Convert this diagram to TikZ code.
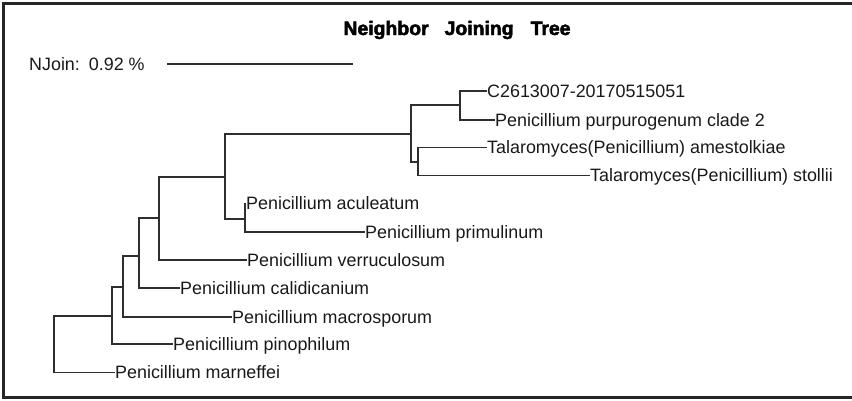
\documentclass[tikz,border=0pt]{standalone}
\usepackage{fontspec}
\setmainfont{Liberation Sans}
\newfontfamily\titlefont[FakeBold=2.5]{Liberation Sans}
\begin{document}
\begin{tikzpicture}[x=1pt,y=-1pt,
  branch/.style={draw=black!82, line width=1.6pt},
  leaf/.style={anchor=west, inner sep=0pt, text height=12pt, text depth=0pt,
    font=\fontsize{17.9}{20}\selectfont, text=black!90},
]
\useasboundingbox (0,0) rectangle (852,400);
\clip (0,0) rectangle (852,400);
% frame
\draw[line width=3pt, black!85] (3,3) rectangle (880,397);

% title
\node[font=\titlefont\fontsize{19.4}{22}\selectfont\bfseries, anchor=base] (title) at (457,35)
  {Neighbor\hspace{16pt}Joining\hspace{17pt}Tree};

% scale bar
\node[leaf] (scalelbl) at (29,64) {NJoin:\hspace{9pt}0.92 \%};
\coordinate (s0) at (167,64);
\coordinate (s1) at (353,64);
\draw[branch] (s0) -- (s1);

% internal nodes
\coordinate (R) at (54,344);
\coordinate (A) at (112,316);
\coordinate (B) at (123,287);
\coordinate (C) at (139,256);
\coordinate (D) at (159,218);
\coordinate (E) at (225,177);
\coordinate (F) at (245,219);
\coordinate (G) at (411,134);
\coordinate (H) at (460,105);
\coordinate (I) at (418,162);

% leaves
\node[leaf] (l1) at (487,91) {C2613007-20170515051};
\node[leaf] (l2) at (495,120) {Penicillium purpurogenum clade 2};
\node[leaf] (l3) at (487,147.5) {Talaromyces(Penicillium) amestolkiae};
\node[leaf] (l4) at (590,175.5) {Talaromyces(Penicillium) stollii};
\node[leaf] (l5) at (246,203.5) {Penicillium aculeatum};
\node[leaf] (l6) at (365,232) {Penicillium primulinum};
\node[leaf] (l7) at (247,260) {Penicillium verruculosum};
\node[leaf] (l8) at (180,288) {Penicillium calidicanium};
\node[leaf] (l9) at (232,317) {Penicillium macrosporum};
\node[leaf] (l10) at (173,344) {Penicillium pinophilum};
\node[leaf] (l11) at (115,372.5) {Penicillium marneffei};

% branches
\draw[branch] (R) |- (A);  \draw[branch] (R) |- (l11.west);
\draw[branch] (A) |- (B);  \draw[branch] (A) |- (l10.west);
\draw[branch] (B) |- (C);  \draw[branch] (B) |- (l9.west);
\draw[branch] (C) |- (D);  \draw[branch] (C) |- (l8.west);
\draw[branch] (D) |- (E);  \draw[branch] (D) |- (l7.west);
\draw[branch] (E) |- (G);  \draw[branch] (E) |- (F);
\draw[branch] (F) |- (l5.west); \draw[branch] (F) |- (l6.west);
\draw[branch] (G) |- (H);  \draw[branch] (G) |- (I);
\draw[branch] (H) |- (l1.west); \draw[branch] (H) |- (l2.west);
\draw[branch] (I) |- (l3.west); \draw[branch] (I) |- (l4.west);
\end{tikzpicture}
\end{document}
